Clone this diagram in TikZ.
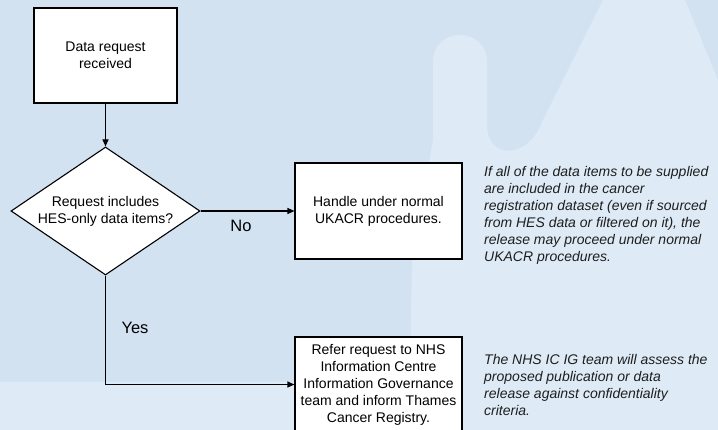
\documentclass[tikz,border=0pt]{standalone}
\usepackage{fontspec}
\setmainfont{Liberation Sans}
\usetikzlibrary{shapes.geometric,arrows.meta}
\definecolor{bgdark}{RGB}{211,226,241}
\definecolor{bglight}{RGB}{222,235,246}
\definecolor{notegray}{RGB}{30,30,30}
\begin{document}
\begin{tikzpicture}[x=1pt,y=-1pt, font=\fontsize{14}{17}\selectfont,
  box/.style={draw=black, line width=1.1pt, fill=white, align=center, inner sep=0pt},
  decision/.style={draw=black, line width=1.1pt, fill=white, shape=diamond, aspect=1.477, align=center, inner sep=0pt, minimum width=189pt, minimum height=128pt},
  arr/.style={line width=1.1pt, -{Triangle[length=7pt,width=6pt]}},
  note/.style={font=\fontsize{14}{17}\selectfont\itshape, text=notegray, align=left, anchor=west, inner sep=0pt},
  lbl/.style={inner sep=0pt, font=\fontsize{16.5}{19}\selectfont}]
\useasboundingbox (0,0) rectangle (718,430);
\clip (0,0) rectangle (718,430);
\fill[bgdark] (0,0) rectangle (718,430);
\fill[bglight] (0,382) -- (410,382) -- (412,260) -- (433,140) -- (433,62)
  .. controls (433,26) and (487,26) .. (487,62) -- (487,125)
  .. controls (487,160) and (528,160) .. (542,122) -- (603,0) -- (685,0)
  -- (718,80) -- (718,430) -- (0,430) -- cycle;

\node[box, minimum width=143pt, minimum height=95pt] (start) at (105.5,55.5) {Data request\\received};
\node[decision] (dec) at (105.5,211) {Request includes\\HES-only data items?};
\node[box, minimum width=167pt, minimum height=96pt] (norm) at (378.5,211) {Handle under normal\\UKACR procedures.};
\node[box, minimum width=167pt, minimum height=95pt] (refer) at (378.5,384.5) {Refer request to NHS\\Information Centre\\Information Governance\\team and inform Thames\\Cancer Registry.};

\draw[arr] (start) -- (dec);
\draw[arr] (dec.east) -- (norm.west);
\draw[arr] (dec.south) |- (refer.west);

\node[lbl] (no) at (241,226) {No};
\node[lbl] (yes) at (135,328) {Yes};

\node[note] (note1) at (484,215) {If all of the data items to be supplied\\are included in the cancer\\registration dataset (even if sourced\\from HES data or filtered on it), the\\release may proceed under normal\\UKACR procedures.};
\node[note] (note2) at (484,385) {The NHS IC IG team will assess the\\proposed publication or data\\release against confidentiality\\criteria.};
\end{tikzpicture}
\end{document}
